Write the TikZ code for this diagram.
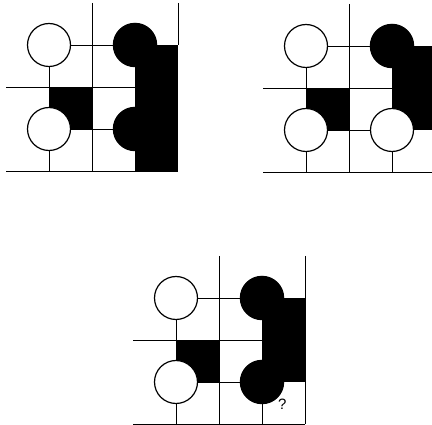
\documentclass[tikz,border=0pt]{standalone}
\usepackage{fontspec}
\setsansfont{Liberation Sans}
\begin{document}
\begin{tikzpicture}[x=1pt,y=-1pt,
  gridline/.style={line width=0.9pt},
  blk/.style={fill=black},
  wstone/.style={circle,draw=black,line width=1.2pt,fill=white,minimum size=43pt,inner sep=0pt},
  bstone/.style={circle,fill=black,minimum size=44.5pt,inner sep=0pt},
  lbl/.style={font=\sffamily\fontsize{15}{15}\selectfont,inner sep=0pt},
  panel/.style={x=43pt,y=-42pt}]
\useasboundingbox (0,0) rectangle (432,425);
\clip (0,0) rectangle (432,425);

% Panel 1 (top left)
\begin{scope}[xshift=49pt,yshift=-45pt,panel]
  \draw[gridline] (0,0) -- (2,0);
  \draw[gridline] (-1,1) -- (2,1);
  \draw[gridline] (0,2) -- (2,2);
  \draw[gridline] (-1,3) -- (3,3);
  \draw[gridline] (0,0) -- (0,3);
  \draw[gridline] (1,-1) -- (1,3);
  \draw[gridline] (3,-1) -- (3,0);
  \fill[blk] (0,1) rectangle (1,2);
  \fill[blk] (2,0) rectangle (3,3);
  \node[bstone] (pa-b1) at (2,0) {};
  \node[bstone] (pa-b2) at (2,2) {};
  \node[wstone] (pa-w1) at (0,0) {};
  \node[wstone] (pa-w2) at (0,2) {};
\end{scope}

% Panel 2 (top right)
\begin{scope}[xshift=306pt,yshift=-46pt,panel]
  \draw[gridline] (0,0) -- (2,0);
  \draw[gridline] (-1,1) -- (2,1);
  \draw[gridline] (0,2) -- (2,2);
  \draw[gridline] (-1,3) -- (3.2,3);
  \draw[gridline] (0,0) -- (0,3);
  \draw[gridline] (1,-1) -- (1,3);
  \draw[gridline] (2,2) -- (2,3);
  \fill[blk] (0,1) rectangle (1,2);
  \fill[blk] (2,0) rectangle (3.2,2);
  \node[bstone] (pb-b1) at (2,0) {};
  \node[wstone] (pb-w1) at (0,0) {};
  \node[wstone] (pb-w2) at (0,2) {};
  \node[wstone] (pb-w3) at (2,2) {};
\end{scope}

% Panel 3 (bottom)
\begin{scope}[xshift=176pt,yshift=-298pt,panel]
  \draw[gridline] (0,0) -- (2,0);
  \draw[gridline] (-1,1) -- (2,1);
  \draw[gridline] (0,2) -- (2,2);
  \draw[gridline] (-1,3) -- (3,3);
  \draw[gridline] (0,0) -- (0,3);
  \draw[gridline] (1,-1) -- (1,3);
  \draw[gridline] (2,2) -- (2,3);
  \draw[gridline] (3,-1) -- (3,3);
  \fill[blk] (0,1) rectangle (1,2);
  \fill[blk] (2,0) rectangle (3,2);
  \node[bstone] (pc-b1) at (2,0) {};
  \node[bstone] (pc-b2) at (2,2) {};
  \node[wstone] (pc-w1) at (0,0) {};
  \node[wstone] (pc-w2) at (0,2) {};
  \node[lbl] (pc-q) at (2.47,2.52) {?};
\end{scope}
\end{tikzpicture}
\end{document}
